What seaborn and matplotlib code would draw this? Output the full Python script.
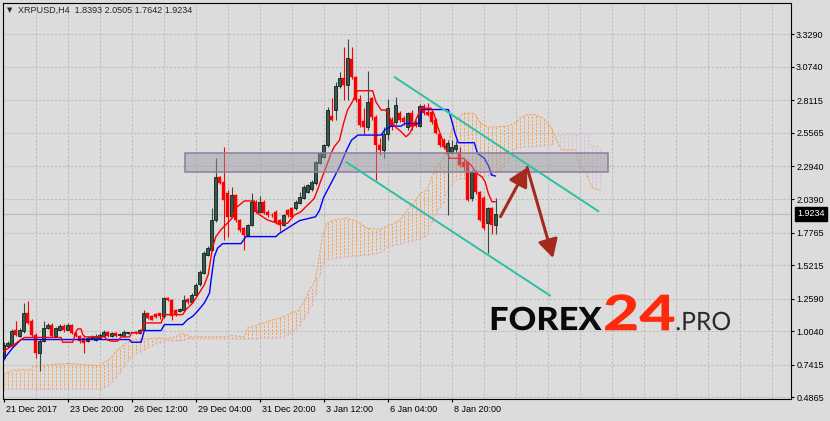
import numpy as np
import pandas as pd
import matplotlib
matplotlib.use("Agg")
import matplotlib.pyplot as plt
import matplotlib.transforms as mtrans
from matplotlib.patches import Rectangle, FancyArrowPatch, PathPatch
from matplotlib.textpath import TextPath
from matplotlib.font_manager import FontProperties
import seaborn as sns

# ---------------- data ----------------
opens = [0.796, 0.890, 0.900, 1.017, 0.965, 1.004, 1.147, 1.082, 0.978, 0.835,
         0.926, 1.030, 1.056, 0.965, 1.017, 1.043, 1.017, 1.056, 0.991, 0.965,
         0.952, 0.926, 0.950, 0.939, 0.952, 0.970, 0.996, 0.965, 0.991, 0.976,
         0.965, 0.990, 0.995, 1.000, 0.990, 1.017, 1.147, 1.126, 1.140, 1.147,
         1.121, 1.264, 1.246, 1.173, 1.160, 1.173, 1.256, 1.230, 1.290, 1.370,
         1.460, 1.600, 1.640, 1.876, 2.214, 2.175, 2.090, 1.906, 2.071, 1.875,
         1.810, 1.758, 1.836, 2.018, 1.940, 2.018, 1.940, 1.915, 1.940, 1.875,
         1.836, 1.953, 1.970, 1.966, 2.006, 2.045, 2.097, 2.120, 2.162, 2.319,
         2.370, 2.460, 2.690, 2.736, 2.924, 2.990, 2.930, 3.135, 2.995, 2.820,
         2.650, 2.600, 2.830, 2.680, 2.460, 2.420, 2.550, 2.660, 2.640, 2.710,
         2.670, 2.600, 2.710, 2.640, 2.610, 2.770, 2.720, 2.720, 2.660, 2.550,
         2.500, 2.400, 2.400, 2.430, 2.407, 2.330, 2.330, 2.050, 2.250, 2.094,
         2.047, 1.852, 1.970, 1.8393]
highs = [0.920, 0.930, 1.020, 1.082, 1.030, 1.225, 1.238, 1.100, 0.990, 0.940,
         1.082, 1.070, 1.069, 1.040, 1.060, 1.060, 1.070, 1.060, 1.000, 0.975,
         0.960, 0.970, 0.975, 0.980, 0.990, 1.010, 1.005, 1.000, 1.000, 0.990,
         1.010, 1.000, 1.000, 1.005, 1.025, 1.170, 1.150, 1.130, 1.145, 1.150,
         1.270, 1.270, 1.255, 1.180, 1.185, 1.290, 1.265, 1.300, 1.380, 1.480,
         1.630, 1.670, 1.970, 2.358, 2.220, 2.444, 2.110, 2.136, 2.080, 1.880,
         1.820, 1.845, 2.084, 2.030, 2.060, 2.030, 1.950, 1.930, 1.950, 1.880,
         1.920, 1.960, 1.980, 2.030, 2.097, 2.150, 2.160, 2.190, 2.340, 2.410,
         2.470, 2.760, 2.830, 2.958, 3.030, 3.232, 3.290, 3.230, 3.000, 2.850,
         2.750, 3.040, 2.840, 2.700, 2.520, 2.600, 2.820, 2.680, 2.835, 2.730,
         2.690, 2.720, 2.740, 2.660, 2.780, 2.780, 2.790, 2.730, 2.670, 2.560,
         2.520, 2.500, 2.500, 2.490, 2.450, 2.360, 2.340, 2.270, 2.270, 2.100,
         2.060, 1.980, 1.980, 2.0505]
lows = [0.780, 0.870, 0.890, 0.965, 0.960, 0.990, 1.060, 0.960, 0.796, 0.692,
        0.920, 1.020, 0.955, 0.960, 1.010, 1.000, 1.010, 0.980, 0.955, 0.915,
        0.835, 0.920, 0.940, 0.930, 0.945, 0.965, 0.955, 0.960, 0.955, 0.965,
        0.960, 0.985, 0.990, 0.985, 0.985, 1.010, 1.100, 1.090, 1.110, 1.100,
        1.110, 1.240, 1.095, 1.125, 1.155, 1.165, 1.220, 1.225, 1.285, 1.360,
        1.450, 1.590, 1.630, 1.860, 2.160, 1.717, 1.745, 1.890, 1.860, 1.780,
        1.640, 1.750, 1.830, 1.930, 1.930, 1.920, 1.900, 1.900, 1.840, 1.790,
        1.830, 1.900, 1.890, 1.950, 2.000, 2.040, 2.090, 2.100, 2.150, 2.310,
        2.360, 2.450, 2.650, 2.658, 2.910, 2.815, 2.815, 2.980, 2.800, 2.600,
        2.550, 2.580, 2.660, 2.188, 2.380, 2.360, 2.500, 2.580, 2.630, 2.640,
        2.620, 2.580, 2.580, 2.600, 2.600, 2.700, 2.690, 2.630, 2.550, 2.450,
        2.430, 1.914, 2.390, 2.400, 2.290, 2.270, 2.020, 2.020, 2.080, 1.870,
        1.800, 1.617, 1.765, 1.7642]
closes = [0.900, 0.910, 1.004, 0.978, 1.017, 1.147, 1.069, 0.978, 0.835, 0.926,
          1.030, 1.056, 0.965, 1.030, 1.043, 1.017, 1.056, 0.991, 0.965, 0.926,
          0.913, 0.952, 0.960, 0.965, 0.978, 0.996, 0.965, 0.991, 0.965, 0.980,
          0.996, 0.992, 0.995, 0.990, 1.017, 1.147, 1.108, 1.095, 1.115, 1.120,
          1.264, 1.250, 1.121, 1.134, 1.178, 1.251, 1.230, 1.290, 1.368, 1.470,
          1.617, 1.657, 1.876, 2.214, 2.167, 2.031, 1.901, 2.071, 1.875, 1.797,
          1.758, 1.836, 2.018, 1.940, 2.018, 1.927, 1.915, 1.912, 1.862, 1.836,
          1.914, 1.914, 1.900, 2.018, 2.057, 2.136, 2.149, 2.175, 2.331, 2.397,
          2.460, 2.736, 2.660, 2.924, 2.987, 2.930, 3.143, 2.995, 2.815, 2.620,
          2.600, 2.800, 2.680, 2.460, 2.420, 2.550, 2.750, 2.610, 2.775, 2.660,
          2.640, 2.710, 2.600, 2.610, 2.770, 2.710, 2.700, 2.640, 2.560, 2.460,
          2.447, 2.480, 2.447, 2.460, 2.306, 2.290, 2.030, 2.250, 2.094, 1.876,
          1.813, 1.970, 1.836, 1.9234]

# Tenkan-sen (red) vertices
tenkan_x = [0, 2.7, 4.4, 5.2, 14.4, 14.8, 17.3, 18.1, 18.5, 19.4, 19.8, 20.4, 25.2, 26, 27,
            28.5, 29.4, 31.5, 32, 34.4, 35.2, 39.4, 40.2, 44.8, 45.6, 47.3, 48.9, 50.2, 51.2,
            52.3, 53.1, 54.4, 56.9, 58.1, 60.2, 62.7, 63.5, 66, 68.5, 71, 72.7, 74.4, 75.6,
            76.9, 77.7, 78.5, 79.4, 80.2, 81, 81.9, 82.7, 84, 85, 86, 87.2, 88.5, 92.3, 93.1,
            94.4, 95.5, 96.9, 98.1, 99.4, 100.6, 101.5, 102.3, 103.1, 104.4, 106.9, 107.7,
            108.5, 109.4, 110.2, 111, 111.5, 115, 117, 118.3, 119.6, 120.4, 121.2, 122.1, 123]
tenkan_y = [0.848, 0.900, 0.939, 0.955, 0.955, 0.918, 0.918, 1.000, 1.022, 1.022, 0.978, 0.960,
            0.960, 0.935, 0.926, 0.926, 0.960, 0.960, 0.991, 0.991, 1.069, 1.069, 1.134, 1.134,
            1.173, 1.225, 1.303, 1.368, 1.450, 1.666, 1.745, 1.800, 1.880, 1.970, 2.024, 2.024,
            1.927, 1.875, 1.849, 1.849, 1.914, 1.940, 1.979, 2.018, 2.045, 2.110, 2.188, 2.253,
            2.319, 2.397, 2.449, 2.500, 2.630, 2.736, 2.800, 2.887, 2.887, 2.800, 2.736, 2.736,
            2.658, 2.600, 2.567, 2.527, 2.550, 2.600, 2.660, 2.750, 2.750, 2.700, 2.610, 2.530,
            2.470, 2.400, 2.358, 2.358, 2.300, 2.240, 2.214, 2.175, 2.084, 2.018, 2.018]

# Kijun-sen (blue) vertices
kijun_x = [0, 2.3, 4.4, 31.5, 32, 34.4, 35.2, 39.4, 40.2, 44.8, 46, 47.3, 48.5, 50.2, 51.5,
           51.9, 52.7, 53.5, 54.8, 59.4, 60.6, 68.1, 69, 74, 78, 79, 80, 82, 84, 85.6, 87,
           88.6, 94.4, 95.3, 96.9, 99.4, 100.3, 104, 104.5, 111.2, 112, 112.9, 113.7, 117.7,
           118.5, 120.2, 121.4, 122, 123]
kijun_y = [0.783, 0.874, 0.939, 0.939, 0.918, 0.918, 1.009, 1.009, 1.056, 1.056, 1.095, 1.121,
           1.160, 1.225, 1.303, 1.407, 1.588, 1.654, 1.690, 1.690, 1.745, 1.745, 1.771, 1.870,
           1.900, 1.950, 2.050, 2.170, 2.290, 2.410, 2.500, 2.540, 2.540, 2.580, 2.610, 2.610,
           2.630, 2.630, 2.740, 2.740, 2.660, 2.550, 2.480, 2.480, 2.397, 2.358, 2.290, 2.227,
           2.219]

# Senkou span A (sandy brown) vertices
span_a_x = [0, 2.7, 6.9, 7.5, 12.7, 16, 22.7, 24.4, 25.2, 26.9, 28.1, 30.2, 31.5, 32.7, 39.4,
            41, 43, 44.4, 45.6, 46.5, 56, 57, 60.2, 61, 62.7, 66, 69.4, 71.9, 73.5, 75.2, 76.5,
            77.7, 78.5, 79.7, 80.9, 82.6, 85.9, 88.4, 90.9, 94.2, 96.7, 99.2, 100.9, 102.5,
            104.2, 105.9, 107.1, 108.4, 109.6, 110.9, 112.3, 114.8, 117.7, 119.4, 121, 125.9,
            127.7, 129.4, 131, 132.7, 135, 136.9, 138, 139.4, 143.1, 143.5, 144.4, 145.6,
            146.5, 147.3, 149]
span_a = [0.666, 0.700, 0.705, 0.730, 0.744, 0.752, 0.736, 0.736, 0.757, 0.796, 0.848, 0.900,
          0.926, 0.939, 0.952, 0.944, 0.960, 0.986, 0.978, 0.960, 0.960, 0.970, 0.960, 1.030,
          1.043, 1.082, 1.110, 1.147, 1.160, 1.238, 1.329, 1.381, 1.500, 1.744, 1.849, 1.875,
          1.888, 1.862, 1.810, 1.802, 1.836, 1.875, 1.953, 2.006, 2.084, 2.110, 2.214, 2.292,
          2.345, 2.400, 2.630, 2.710, 2.710, 2.630, 2.600, 2.610, 2.630, 2.680, 2.700, 2.700,
          2.670, 2.600, 2.520, 2.423, 2.423, 2.358, 2.290, 2.240, 2.175, 2.123, 2.110]

# Senkou span B (thistle) vertices
span_b_x = [0, 24.4, 26.1, 27.7, 29.4, 31, 32.3, 34.4, 36, 37.7, 39.4, 41, 44.4, 45.6, 60.2,
            69.4, 71.9, 73.9, 76, 77.7, 79, 80.2, 85.9, 90.9, 94.2, 95.9, 99.2, 103.4, 105.9,
            107, 108, 109, 110, 111, 112, 113, 119, 122, 125, 127, 128, 137, 138, 139, 146,
            147, 149]
span_b = [0.549, 0.549, 0.575, 0.627, 0.692, 0.770, 0.814, 0.848, 0.874, 0.900, 0.918, 0.931,
          0.931, 0.944, 0.944, 0.952, 0.991, 1.043, 1.147, 1.250, 1.450, 1.562, 1.588, 1.601,
          1.619, 1.666, 1.687, 1.718, 1.758, 1.860, 1.920, 1.970, 2.010, 2.110, 2.150, 2.190,
          2.210, 2.230, 2.290, 2.370, 2.440, 2.460, 2.520, 2.540, 2.550, 2.450, 2.450]

price_ticks = [0.4865, 0.7415, 1.0040, 1.2590, 1.5215, 1.7765, 2.0390, 2.2940,
               2.5565, 2.8115, 3.0740, 3.3290]
date_labels = ["21 Dec 2017", "23 Dec 20:00", "26 Dec 12:00", "29 Dec 04:00",
               "31 Dec 20:00", "3 Jan 12:00", "6 Jan 04:00", "8 Jan 20:00"]
date_label_bars = [0, 16, 32, 48, 64, 80, 96, 112]
last_price = 1.9234
title_text = "XRPUSD,H4  1.8393 2.0505 1.7642 1.9234"

# resistance zone and drawn channel / arrows (price-chart annotations)
zone_bars = [45.45, 151.05]
zone_prices = [2.253, 2.397]
channel_upper = [(97.6, 2.997), (148.9, 1.940)]
channel_lower = [(85.55, 2.331), (136.8, 1.280)]
arrow_up = [(124.25, 1.901), (130.9, 2.286)]
arrow_down = [(130.9, 2.286), (137.4, 1.577)]

# ---------------- style ----------------
BG = "#DCDCDC"
sns.set_style("white", rc={"axes.facecolor": BG, "figure.facecolor": BG})
plt.rcParams["font.family"] = ["Liberation Sans", "DejaVu Sans"]

W, H = 830, 421
fig = plt.figure(figsize=(W / 100, H / 100), dpi=100)
ax = fig.add_axes([3 / W, 22 / H, 788 / W, 396 / H])
ax.set_facecolor(BG)
ax.set_xlim(-0.125, 196.875)
ax.set_ylim(0.4734, 3.574)

# grid
grid_kw = dict(color="#BDBDBD", lw=0.75, ls=(0, (2.2, 1.6)), zorder=0.5)
for gx in np.arange(8, 197, 8):
    ax.axvline(gx, **grid_kw)
for gy in price_ticks:
    ax.axhline(gy, **grid_kw)

# current price line
ax.axhline(last_price, color="#BEBEBE", lw=0.9, zorder=0.8)

# Ichimoku cloud hatching
hb = np.arange(0, 150)
ha = np.interp(hb, span_a_x, span_a)
hbv = np.interp(hb, span_b_x, span_b)
up = ha >= hbv
dash = (0, (2.2, 1.2))
ax.vlines(hb[up], hbv[up], ha[up], colors="#F4A460", linestyles=dash, lw=0.75, zorder=1)
ax.vlines(hb[~up], ha[~up], hbv[~up], colors="#D8BFD8", linestyles=dash, lw=0.75, zorder=1)
ax.plot(span_a_x, span_a, color="#F4A460", lw=0.8, ls=dash, zorder=1.2)
ax.plot(span_b_x, span_b, color="#D8BFD8", lw=0.8, ls=dash, zorder=1.2)

# candles
df = pd.DataFrame({"bar": np.arange(len(opens)), "open": opens, "high": highs,
                   "low": lows, "close": closes})
bull = df["close"] >= df["open"]
wick_cols = np.where(bull, "#2F4F44", "#FF0000")
ax.vlines(df["bar"], df["low"], df["high"], colors=wick_cols, lw=0.8, zorder=2)
body_bot = np.minimum(df["open"], df["close"])
body_h = np.maximum(np.abs(df["close"] - df["open"]), 0.005)
ax.bar(df["bar"][bull], body_h[bull], bottom=body_bot[bull], width=0.6,
       color="#2E5E4E", edgecolor="#101010", lw=0.55, zorder=2.2)
ax.bar(df["bar"][~bull], body_h[~bull], bottom=body_bot[~bull], width=0.72,
       color="#FF0000", edgecolor="#FF0000", lw=0.3, zorder=2.2)

# tenkan / kijun via seaborn
tk = pd.DataFrame({"bar": tenkan_x, "value": tenkan_y})
kj = pd.DataFrame({"bar": kijun_x, "value": kijun_y})
sns.lineplot(data=kj, x="bar", y="value", color="#0000FF", lw=1.0, ax=ax,
             estimator=None, sort=False, zorder=3)
sns.lineplot(data=tk, x="bar", y="value", color="#FF0000", lw=1.0, ax=ax,
             estimator=None, sort=False, zorder=3.1)
ax.set_xlabel("")
ax.set_ylabel("")

# zone rectangle
ax.add_patch(Rectangle((zone_bars[0], zone_prices[0]), zone_bars[1] - zone_bars[0],
                       zone_prices[1] - zone_prices[0], facecolor=(0.6, 0.6, 0.63, 0.45),
                       edgecolor="#8E7DA2", lw=1.1, zorder=4))

# channel lines
for (p0, p1) in (channel_upper, channel_lower):
    ax.plot([p0[0], p1[0]], [p0[1], p1[1]], color="#2EBFA6", lw=1.4, zorder=5,
            solid_capstyle="butt")

# arrows
for (p0, p1) in (arrow_up, arrow_down):
    ax.add_patch(FancyArrowPatch(p0, p1, arrowstyle="-|>,head_length=0.55,head_width=0.3",
                                 mutation_scale=20, lw=2.2, color="#A52A1E",
                                 shrinkA=0, shrinkB=0, zorder=6))

# axes frame and ticks
for s in ax.spines.values():
    s.set_visible(True)
    s.set_color("black")
    s.set_linewidth(0.8)
ax.yaxis.tick_right()
ax.set_yticks(price_ticks)
ax.set_yticklabels([f"{v:.4f}" for v in price_ticks])
ax.set_xticks(date_label_bars)
ax.set_xticklabels(date_labels)
ax.tick_params(axis="y", direction="out", length=2.5, width=0.8, pad=1.2,
               labelsize=6.5, colors="black", right=True, left=False)
ax.tick_params(axis="x", direction="out", length=2.5, width=0.8, pad=2.0,
               labelsize=6.5, colors="black", bottom=True)
offset = mtrans.ScaledTranslation(2 / 100, 0, fig.dpi_scale_trans)
for lbl in ax.get_xticklabels():
    lbl.set_ha("left")
    lbl.set_transform(lbl.get_transform() + offset)

# last price tag
ax.text(1.0078, last_price, f"{last_price:.4f}", transform=mtrans.blended_transform_factory(
        ax.transAxes, ax.transData), ha="left", va="center", color="white", fontsize=6.5,
        bbox=dict(boxstyle="square,pad=0.28", fc="black", ec="black"), zorder=10, clip_on=False)

# title
fig.text(9.5 / W, 1 - 10.5 / H, "\u25bc", fontsize=5, ha="center", va="center",
         family=["DejaVu Sans"])
fig.text(18 / W, 1 - 10.5 / H, title_text, fontsize=6.5, ha="left", va="center")


# logo (text outlines fitted to the reference's pixel boxes)
def logo_part(text, weight, color, left, right, top, base):
    prop = FontProperties(family=["Lato", "Open Sans", "DejaVu Sans"], weight=weight)
    tp = TextPath((0, 0), text, size=50, prop=prop)
    ext = tp.get_extents()
    sx = (right - left) / ext.width
    sy = (base - top) / ext.height
    tr = (mtrans.Affine2D().translate(-ext.x0, -ext.y0).scale(sx, sy)
          .translate(left, H - base))
    fig.add_artist(PathPatch(tp, transform=tr, facecolor=color, edgecolor="none", zorder=8))


logo_part("FOREX", "black", "#0A0A0A", 491.7, 601.7, 306.7, 330.3)
logo_part("24", "black", "#FF2A0C", 605.0, 674.3, 294.3, 330.3)
logo_part(".PRO", "normal", "#2B2B2B", 676.7, 730.0, 311.7, 330.3)

fig.savefig("out.png", dpi=100, facecolor=BG)
